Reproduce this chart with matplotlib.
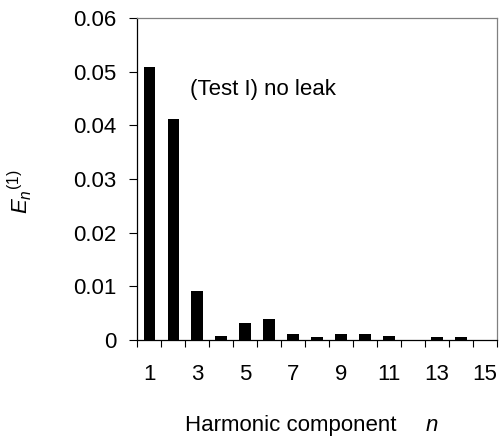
import matplotlib.pyplot as plt
import numpy as np

plt.rcParams['font.family'] = ['Liberation Sans', 'DejaVu Sans']
plt.rcParams['mathtext.fontset'] = 'custom'
plt.rcParams['mathtext.rm'] = 'Liberation Sans'
plt.rcParams['mathtext.it'] = 'Liberation Sans:italic'

# harmonic components and energy ratios
armonicos = list(range(1, 16))
energia = [0.0509, 0.0411, 0.0092, 0.0008, 0.0031, 0.0040, 0.0011, 0.0005,
           0.0011, 0.0011, 0.0008, 0.0, 0.0005, 0.0005, 0.0]
etiquetas_x = ['1', '3', '5', '7', '9', '11', '13', '15']
ticks_y = [0, 0.01, 0.02, 0.03, 0.04, 0.05, 0.06]

fig = plt.figure(figsize=(5.01, 4.48), dpi=100)
ax = fig.add_axes([0.2735, 0.241, 0.7185, 0.719])

ax.bar(armonicos, energia, width=0.46, color='black')

ax.set_xlim(0.5, 15.5)
ax.set_ylim(0, 0.06)

# ticks between categories, labels on odd categories
ax.set_xticks(np.arange(0.5, 16, 1))
ax.set_xticklabels([])
ax.set_xticks(armonicos[::2], minor=True)
ax.set_xticklabels(etiquetas_x, minor=True)
ax.tick_params(axis='x', which='major', direction='out', length=5, width=0.8)
ax.tick_params(axis='x', which='minor', length=0, pad=17, labelsize=16)

ax.set_yticks(ticks_y)
ax.set_yticklabels(['0', '0.01', '0.02', '0.03', '0.04', '0.05', '0.06'])
ax.tick_params(axis='y', direction='out', length=6, width=0.8, pad=9, labelsize=16)

for lado in ['top', 'right']:
    ax.spines[lado].set_color('#808080')
for lado in ['left', 'bottom']:
    ax.spines[lado].set_color('black')
for s in ax.spines.values():
    s.set_linewidth(0.9)

ax.text(2.7, 0.0466, '(Test I) no leak', fontsize=16, va='center', ha='left')

fig.text(0.58, 0.05, 'Harmonic component', fontsize=16, ha='center', va='center')
fig.text(0.848, 0.05, r'$\mathit{n}$', fontsize=16, ha='left', va='center')
fig.text(0.04, 0.571, r'$\mathit{E}_{\mathit{n}}{}^{\mathrm{(1)}}$', fontsize=16,
         rotation=90, ha='center', va='center')

fig.savefig('out.png', dpi=100)
